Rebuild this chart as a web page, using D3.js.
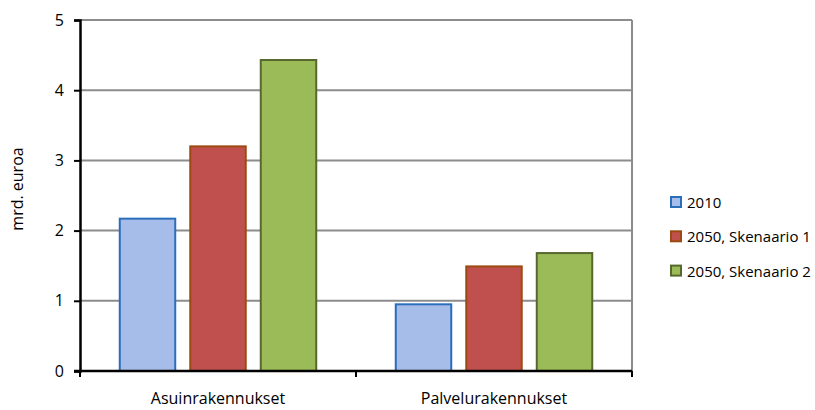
<!DOCTYPE html>
<html>
<head>
<meta charset="utf-8">
<script src="https://cdn.jsdelivr.net/npm/d3@7"></script>
<style>
  html, body { margin: 0; padding: 0; background: #fff; }
  text { font-family: "Open Sans", "Noto Sans", sans-serif; fill: #000; }
</style>
</head>
<body>
<svg id="chart" width="815" height="410"></svg>
<script>
// Building categories and scenario series (billion euros)
const categories = ["Asuinrakennukset", "Palvelurakennukset"];
const seriesNames = ["2010", "2050, Skenaario 1", "2050, Skenaario 2"];
const values2010 = [2.17, 0.95];
const valuesS1 = [3.20, 1.49];
const valuesS2 = [4.43, 1.68];
const yTicks = [0, 1, 2, 3, 4, 5];
const yLabel = "mrd. euroa";

const fills = ["#A7BDE9", "#C0504D", "#9BBB59"];
const strokes = ["#2A6EBB", "#9C4A12", "#56682E"];

const seriesValues = [values2010, valuesS1, valuesS2];
const data = categories.map((c, i) => ({
  category: c,
  values: seriesNames.map((s, j) => ({ series: s, idx: j, value: seriesValues[j][i] }))
}));

const svg = d3.select("#chart");
const plotLeft = 80, plotRight = 632, plotTop = 20, plotBottom = 371;

const x = d3.scaleBand().domain(categories).range([plotLeft, plotRight]).paddingInner(0).paddingOuter(0);
const y = d3.scaleLinear().domain([0, 5]).range([plotBottom, plotTop]);
const inner = d3.scaleBand().domain(seriesNames).range([0, x.bandwidth()])
  .paddingInner(0.213).paddingOuter(0.564);

// Horizontal gridlines
svg.append("g").selectAll("line").data(yTicks.filter(d => d > 0)).join("line")
  .attr("x1", plotLeft).attr("x2", plotRight)
  .attr("y1", d => y(d)).attr("y2", d => y(d))
  .attr("stroke", "#8C8C8C").attr("stroke-width", 2);

// Right border
svg.append("line").attr("x1", plotRight).attr("x2", plotRight).attr("y1", plotTop).attr("y2", plotBottom)
  .attr("stroke", "#8C8C8C").attr("stroke-width", 2);

// Bars
const groups = svg.append("g").selectAll("g").data(data).join("g")
  .attr("transform", d => `translate(${x(d.category)},0)`);
groups.selectAll("rect").data(d => d.values).join("rect")
  .attr("x", d => inner(d.series))
  .attr("width", inner.bandwidth())
  .attr("y", d => y(d.value))
  .attr("height", d => y(0) - y(d.value))
  .attr("fill", d => fills[d.idx])
  .attr("stroke", d => strokes[d.idx])
  .attr("stroke-width", 2);

// Y axis
const yAxis = d3.axisLeft(y).tickValues(yTicks).tickSize(6).tickPadding(10).tickFormat(d3.format("d"));
const gy = svg.append("g").attr("transform", `translate(${plotLeft},0)`).call(yAxis);
gy.select(".domain").attr("stroke", "#000").attr("stroke-width", 2.5);
gy.selectAll(".tick line").attr("stroke", "#000").attr("stroke-width", 2);
gy.selectAll(".tick text").attr("font-size", 16).style("font-family", "'Open Sans', sans-serif");

// X axis line with boundary ticks
const gx = svg.append("g");
gx.append("line").attr("x1", plotLeft - 6).attr("x2", plotRight).attr("y1", plotBottom).attr("y2", plotBottom)
  .attr("stroke", "#000").attr("stroke-width", 2.5);
const boundaries = categories.map(c => x(c)).concat([plotRight]);
gx.selectAll("line.b").data(boundaries).join("line").attr("class", "b")
  .attr("x1", d => d).attr("x2", d => d).attr("y1", plotBottom).attr("y2", plotBottom + 6)
  .attr("stroke", "#000").attr("stroke-width", 2);
gx.selectAll("text").data(categories).join("text")
  .attr("x", d => x(d) + x.bandwidth() / 2)
  .attr("y", 404)
  .attr("text-anchor", "middle")
  .attr("font-size", 16)
  .text(d => d);

// Y axis title
svg.append("text")
  .attr("transform", "translate(23,189) rotate(-90)")
  .attr("text-anchor", "middle")
  .attr("font-size", 16)
  .text(yLabel);

// Legend
const legend = svg.append("g").selectAll("g").data(seriesNames).join("g")
  .attr("transform", (d, i) => `translate(671,${202 + i * 34.3})`);
legend.append("rect").attr("x", 0).attr("y", -5).attr("width", 10).attr("height", 10)
  .attr("fill", (d, i) => fills[i]).attr("stroke", (d, i) => strokes[i]).attr("stroke-width", 2);
legend.append("text").attr("x", 16).attr("y", 6).attr("font-size", 15).text(d => d);
</script>
</body>
</html>
